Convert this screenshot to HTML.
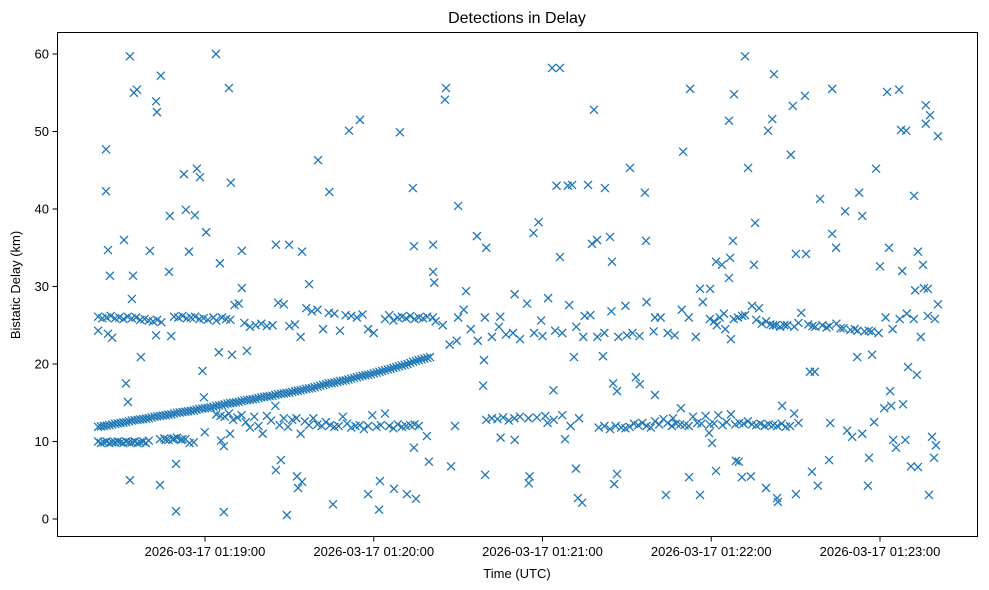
<!DOCTYPE html>
<html><head><meta charset="utf-8"><style>
html,body{margin:0;padding:0;background:#fff;}
svg{display:block;font-family:"Liberation Sans","DejaVu Sans",sans-serif;}
</style></head><body>
<svg id="chart" width="989" height="590" viewBox="0 0 989 590" xmlns="http://www.w3.org/2000/svg">
<rect width="989" height="590" fill="#fff"/>
<text x="517" y="23" text-anchor="middle" font-size="16">Detections in Delay</text>
<text x="517" y="578" text-anchor="middle" font-size="13">Time (UTC)</text>
<text transform="translate(20,285) rotate(-90)" text-anchor="middle" font-size="13">Bistatic Delay (km)</text>
<g id="marks"></g>
<g id="axes"></g>
<rect x="57.5" y="32.5" width="920" height="504" fill="none" stroke="#000" stroke-width="1"/>
</svg>
<script>
// time = seconds after 2026-03-17 01:18:00 UTC, delay in km
const yTicks = [0, 10, 20, 30, 40, 50, 60];
const xTickSeconds = [60, 120, 180, 240, 300];
const xTickLabels = ["2026-03-17 01:19:00","2026-03-17 01:20:00","2026-03-17 01:21:00","2026-03-17 01:22:00","2026-03-17 01:23:00"];

const rampTimes = [22,24,26,28,30,32,34,36,38,40,42,44,46,48,50,52,54,56,58,60,62,64,66,68,70,72,74,76,78,80,82,84,86,88,90,92,94,96,98,100,102,104,106,108,110,112,114,116,118,120,122,124,126,128,130,132,134,136,138,140];
const rampDelays = [11.9,12.0,12.1,12.3,12.4,12.5,12.7,12.8,12.9,13.0,13.2,13.3,13.4,13.5,13.7,13.8,13.9,14.0,14.2,14.3,14.4,14.6,14.7,14.9,15.0,15.1,15.3,15.4,15.5,15.7,15.8,15.9,16.1,16.2,16.3,16.5,16.6,16.8,16.9,17.1,17.3,17.5,17.6,17.8,17.9,18.1,18.3,18.5,18.6,18.8,19.0,19.2,19.4,19.6,19.8,20.0,20.3,20.5,20.7,20.9];
const rampTimes2 = [23,25,27,29,31,33,35,37,39,41,43,45,47,49,51,53,55,57,59,61,63,65,67,69,71,73,75,77,79,81,83,85,87,89,91,93,95,97,99,101,103,105,107,109,111,113,115,117,119,121,123,125,127,129,131,133,135,137,139];
const rampDelays2 = [11.95,12.05,12.2,12.35,12.45,12.6,12.75,12.85,12.95,13.1,13.25,13.35,13.45,13.6,13.75,13.85,13.95,14.1,14.25,14.35,14.5,14.65,14.8,14.95,15.05,15.2,15.35,15.45,15.6,15.75,15.85,16.0,16.15,16.25,16.4,16.55,16.7,16.85,17.0,17.2,17.4,17.55,17.7,17.85,18.0,18.2,18.4,18.55,18.7,18.9,19.1,19.3,19.5,19.7,19.9,20.15,20.4,20.6,20.8];

const upperLeftTimes = [22,23.5,25,26.5,28,29.5,31,32.5,34,35.5,37,38.5,40,41.5,43,44.5,22,25.5,27,49,50.5,52,53.5,55,56.5,58,59.5,61,63,64,66,67.5,69,70.5,72,74,76,78,80,82,84,86,88,90,92,94,96,98,100,102,104,106,108,110,112,114,116,118,120,124,125.5,127,128.5,130,131.5,133,134.5,136,137.5,139,141];
const upperLeftDelays = [26.1,25.9,26.0,26.2,25.9,26.0,25.8,26.1,25.9,26.0,25.7,25.8,25.6,25.5,25.7,25.4,24.3,23.9,23.4,26.1,26.0,26.2,25.9,26.0,26.1,25.8,25.9,25.7,26.0,25.6,26.0,25.8,25.7,27.6,27.8,25.3,24.8,25.0,25.2,24.9,25.0,27.9,27.7,24.9,25.1,23.5,27.2,26.8,27.0,24.5,26.6,26.5,24.3,26.3,26.2,26.0,26.4,24.5,24.0,25.8,26.3,25.6,26.0,26.1,25.9,26.2,25.8,26.0,25.9,26.1,26.0];

const lowerLeftTimes = [22,24,26,28,30,32,34,36,38,40,44,45.5,47,48.5,50,51.5,53,54.5,56,23,25,27,29,31,33,35,37,39,46,49,52];
const lowerLeftDelays = [10.0,9.9,9.8,9.9,9.9,10.0,9.9,9.8,10.0,10.1,10.3,10.4,10.2,10.3,10.5,10.2,10.3,9.8,9.9,9.8,10.0,9.9,10.0,9.8,9.9,10.0,9.9,9.8,10.2,10.4,10.3];

const midLeftTimes = [64,65.5,67,68.5,70,71.5,73,74.5,76,77.5,79,80.5,82,83.5,85,86.5,88,89.5,91,92.5,94,95.5,97,98.5,100,101.5,103,104.5,106,107.5,109,110.5,112,113.5,115,116.5,118,119.5,121,122.5,124,125.5,127,128.5,130,131.5,133,134.5,136];
const midLeftDelays = [13.5,13.3,13.2,13.6,12.8,13.1,13.4,12.5,11.8,13.2,12.0,11.0,13.3,12.7,14.6,12.1,13.0,11.9,12.8,13.0,11.0,12.6,12.1,13.0,12.2,12.0,12.5,12.1,11.9,12.0,13.2,12.3,11.8,12.0,12.1,11.6,12.0,13.4,11.9,12.1,13.6,12.0,11.7,12.2,11.9,12.0,12.1,12.2,12.0];

const upperRightTimes = [142,144.5,147,149.5,152,154.5,157,159.5,162,164.5,167,169.5,172,174.5,177,179.5,182,184.5,187,189.5,192,194.5,197,199.5,202,204.5,207,209.5,212,214.5,217,219.5,222,224.5,227,229.5,232,234.5,237,239.5,242,244.5,247,249.5,252,254.5,257,259.5,262,264.5,267,269.5,272,274.5,277,279.5,282,284.5,287,289.5,292,294.5,297,299.5,302,304.5,307,309.5,312,314.5,317,319.5,241,243,245,248,251,256,258,261,263,266,271,276,281,286,291,296,150,165,180,195,210,220];
const upperRightDelays = [25.5,25.0,22.5,23.0,27.0,24.5,23.0,26.0,23.5,24.8,23.8,24.0,23.2,27.8,24.0,25.6,28.5,24.3,24.0,27.6,24.8,23.5,26.3,23.5,24.0,26.8,23.5,27.5,24.0,23.6,28.0,24.2,26.0,24.0,23.7,27.0,26.0,23.5,28.0,25.8,25.0,26.5,23.2,26.0,26.3,27.5,27.2,25.5,25.0,24.8,25.0,24.8,26.6,25.1,24.8,25.0,24.9,25.2,24.6,24.4,24.3,24.2,24.2,24.0,26.0,24.5,25.8,26.5,25.8,23.5,26.2,25.8,25.5,26.0,24.5,25.8,26.2,25.7,25.2,25.1,25.0,25.0,25.3,24.9,24.7,24.6,24.5,24.3,26.0,26.1,23.6,26.2,23.7,26.0];

const lowerRightTimes = [160,162,164,166,168,170,172,175,178,181,184,187,190,193,200,202,204,206,208,209.5,211,212.5,214,215.5,217,218.5,220,221.5,223,224.5,226,227.5,229,230.5,232,233.5,235,236.5,238,239.5,241,242.5,244,245.5,247,248.5,250,251.5,253,254.5,256,257.5,259,260.5,262,263.5,265,266.5,268,269.5,271];
const lowerRightDelays = [12.8,13.0,12.9,13.1,12.7,13.0,13.2,13.0,13.1,13.3,12.8,13.4,12.0,13.0,11.8,12.0,11.6,12.0,11.8,11.7,11.9,12.3,12.1,12.4,12.0,11.8,12.6,12.2,12.9,12.4,12.0,12.3,12.2,12.1,12.0,13.2,12.4,12.3,13.3,12.2,12.3,13.4,12.1,12.5,13.5,12.2,12.4,12.3,12.6,12.2,12.1,12.3,12.0,12.2,12.1,12.0,12.3,11.9,12.0,13.6,12.4];

const scatterTimes = [24.8,24.8,25.5,26.2,33.3,34.7,35.8,31.2,34.0,34.4,31.9,32.6,33.3,37.2,40.4,42.6,42.9,44.3,47.2,47.5,44.0,49.7,49.7,52.5,53.2,54.3,56.4,57.1,58.2,60.4,59.1,59.6,63.9,64.9,65.3,65.7,66.7,66.7,68.5,69.2,69.6,73.1,73.1,74.9,85.2,89.9,94.5,97.0,100.2,104.2,85.2,87.0,89.1,92.7,94.5,93.1,105.5,111.2,115.1,118.0,121.9,122.2,127.2,129.3,131.8,135.0,133.9,134.3,134.3,138.9,139.6,141.1,141.1,141.5,145.7,145.3,147.5,148.9,150.0,152.8,156.7,159.2,158.9,160.0,159.6,165.1,170.1,170.1,175.1,175.4,176.8,178.6,181.8,183.9,185.0,183.4,186.2,186.2,188.0,189.0,190.5,191.2,191.9,192.6,194.1,196.2,197.6,198.3,199.4,201.5,202.2,204.0,204.7,205.1,205.5,206.5,206.5,211.1,213.2,214.6,216.4,216.8,220.0,223.9,226.4,229.2,230.0,232.1,232.5,236.0,236.0,239.6,239.2,240.3,241.7,241.7,243.8,246.7,246.3,246.3,247.7,248.1,248.8,249.8,250.9,252.0,253.1,254.1,255.2,255.6,259.5,260.2,261.7,262.3,263.4,263.7,265.2,268.3,269.0,270.1,270.1,273.3,273.7,275.1,276.8,275.8,277.9,278.7,281.9,283.0,283.0,284.4,282.3,287.6,288.3,290.1,291.9,292.6,293.7,293.7,295.7,296.1,297.2,297.9,298.6,300.0,301.5,302.5,303.2,303.6,304.0,304.7,305.7,306.8,307.5,307.9,308.2,309.0,309.3,310.0,311.0,312.1,312.5,313.1,313.5,313.5,315.3,315.6,316.3,316.3,317.0,317.4,317.8,318.5,319.2,319.9,320.6,320.6,59.9,68.9,42.6,48.0];
const scatterDelays = [47.7,42.3,34.7,31.4,59.7,55.0,55.4,36.0,28.4,31.4,17.5,15.1,5.0,20.9,34.6,53.9,52.5,57.2,31.9,39.1,4.4,7.1,1.0,44.5,39.9,34.5,39.2,45.2,44.1,37.0,19.1,15.7,60.0,21.5,33.0,10.1,9.4,0.9,55.6,43.4,21.2,29.8,34.6,21.7,35.4,35.4,34.5,30.3,46.3,42.2,6.3,7.6,0.5,5.5,4.8,4.0,1.9,50.1,51.5,3.2,1.2,4.9,3.9,49.9,3.2,2.6,42.7,35.2,9.2,10.7,7.4,35.4,31.9,30.5,55.6,54.1,6.8,12.0,40.4,29.4,36.5,20.5,17.2,35.0,5.7,10.5,10.2,29.0,4.6,5.5,36.9,38.3,12.4,16.6,43.0,58.2,58.2,33.8,10.3,43.0,43.1,20.9,6.5,2.7,2.1,43.1,35.5,52.8,36.0,21.0,42.7,36.4,33.2,17.5,4.5,5.8,16.5,45.3,18.3,17.4,42.1,35.9,16.0,3.1,13.0,14.3,47.4,5.4,55.5,3.1,29.7,29.7,11.1,9.8,6.2,33.2,32.8,33.7,51.4,31.1,35.9,54.8,7.5,7.4,5.4,59.7,45.3,5.5,32.8,38.2,4.0,50.1,51.6,57.4,2.7,2.2,14.6,47.0,53.3,3.2,34.2,54.6,34.2,19.0,19.0,6.1,4.3,41.3,7.6,55.5,36.8,35.0,12.4,39.7,11.4,10.6,20.9,42.1,39.1,11.0,4.3,7.9,21.2,12.5,45.2,32.6,14.3,55.1,35.0,16.5,14.6,10.2,9.2,55.4,50.2,32.0,14.8,10.2,50.1,19.6,6.8,41.7,29.5,18.6,34.5,6.7,32.8,29.8,53.4,51.0,29.7,3.1,52.1,10.6,7.9,9.5,49.4,27.7,11.2,11.0,23.7,23.6];

const svgNS = "http://www.w3.org/2000/svg";
function xScale(t){ return 205 + (t - 60) * 168.75 / 60; }
function yScale(v){ return 519 - v * 7.75; }

const marks = document.getElementById('marks');
function drawGroup(times, delays, name){
  const n = Math.min(times.length, delays.length);
  for (let i = 0; i < n; i++){
    const cx = xScale(times[i]), cy = yScale(delays[i]), r = 4.0;
    const p = document.createElementNS(svgNS, 'path');
    p.setAttribute('d', `M${cx-r},${cy-r}L${cx+r},${cy+r}M${cx-r},${cy+r}L${cx+r},${cy-r}`);
    p.setAttribute('stroke', '#1f77b4');
    p.setAttribute('stroke-width', '1.3');
    p.setAttribute('fill', 'none');
    
    
    marks.appendChild(p);
  }
}
drawGroup(rampTimes, rampDelays, 'ramp-point');
drawGroup(rampTimes2, rampDelays2, 'ramp-point');
drawGroup(upperLeftTimes, upperLeftDelays, 'upper-band-point');
drawGroup(lowerLeftTimes, lowerLeftDelays, 'lower-band-point');
drawGroup(midLeftTimes, midLeftDelays, 'mid-band-point');
drawGroup(upperRightTimes, upperRightDelays, 'upper-band-point');
drawGroup(lowerRightTimes, lowerRightDelays, 'lower-band-point');
drawGroup(scatterTimes, scatterDelays, 'scatter-point');

const axes = document.getElementById('axes');
yTicks.forEach(v => {
  const y = yScale(v);
  const l = document.createElementNS(svgNS, 'line');
  l.setAttribute('x1', 57.5); l.setAttribute('x2', 52.5);
  l.setAttribute('y1', y); l.setAttribute('y2', y);
  l.setAttribute('stroke', '#000');
  
  
  axes.appendChild(l);
  const t = document.createElementNS(svgNS, 'text');
  t.setAttribute('x', 49); t.setAttribute('y', y + 4.5);
  t.setAttribute('text-anchor', 'end'); t.setAttribute('font-size', '13');
  t.textContent = String(v);
  
  
  axes.appendChild(t);
});
xTickSeconds.forEach((s, i) => {
  const x = xScale(s);
  const l = document.createElementNS(svgNS, 'line');
  l.setAttribute('x1', x); l.setAttribute('x2', x);
  l.setAttribute('y1', 536.5); l.setAttribute('y2', 541.5);
  l.setAttribute('stroke', '#000');
  
  
  axes.appendChild(l);
  const t = document.createElementNS(svgNS, 'text');
  t.setAttribute('x', x); t.setAttribute('y', 556);
  t.setAttribute('text-anchor', 'middle'); t.setAttribute('font-size', '13');
  t.textContent = xTickLabels[i];
  
  
  axes.appendChild(t);
});
</script>
</body></html>
